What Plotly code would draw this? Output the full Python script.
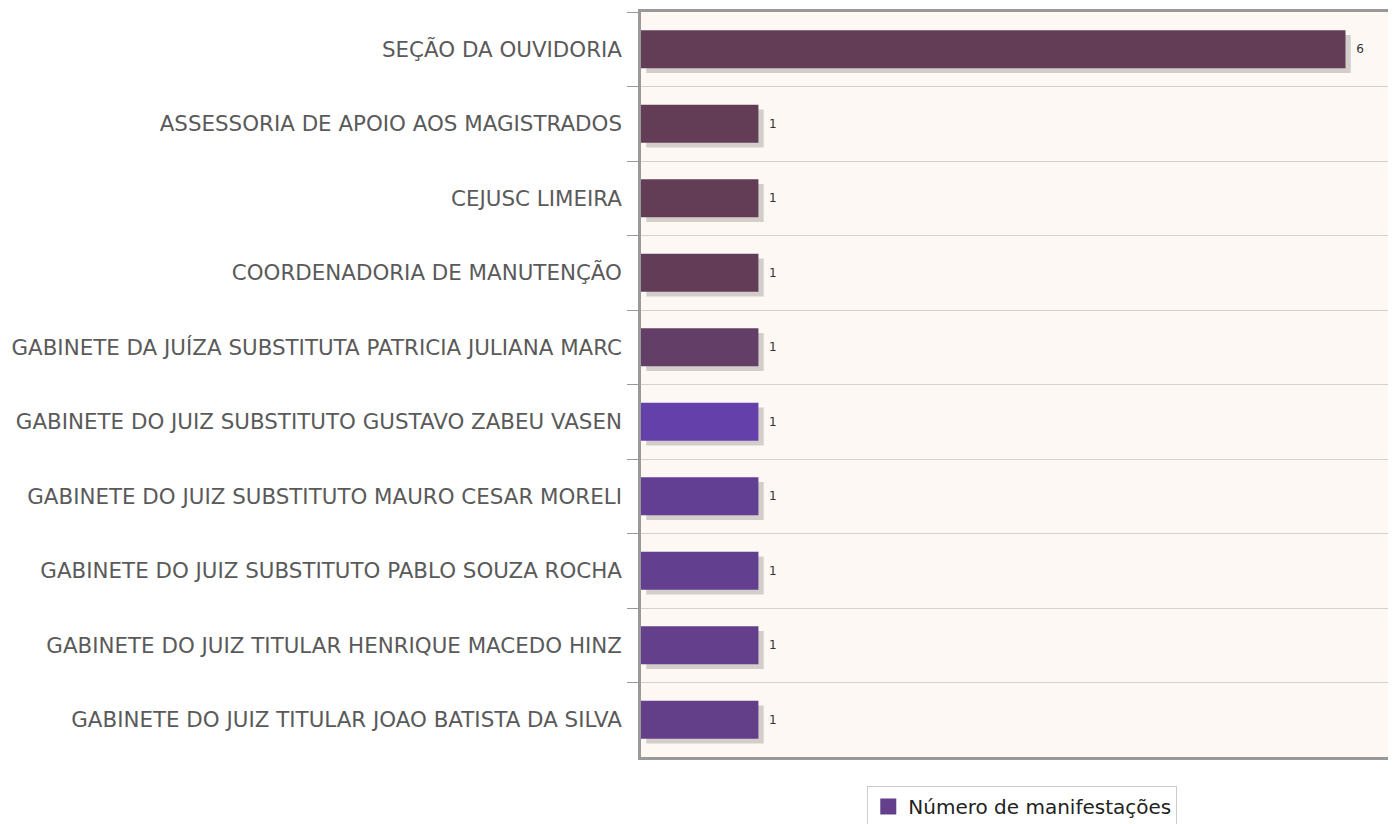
import plotly.graph_objects as go

categories = [
    "SEÇÃO DA OUVIDORIA",
    "ASSESSORIA DE APOIO AOS MAGISTRADOS",
    "CEJUSC LIMEIRA",
    "COORDENADORIA DE MANUTENÇÃO",
    "GABINETE DA JUÍZA SUBSTITUTA PATRICIA JULIANA MARC",
    "GABINETE DO JUIZ SUBSTITUTO GUSTAVO ZABEU VASEN",
    "GABINETE DO JUIZ SUBSTITUTO MAURO CESAR MORELI",
    "GABINETE DO JUIZ SUBSTITUTO PABLO SOUZA ROCHA",
    "GABINETE DO JUIZ TITULAR HENRIQUE MACEDO HINZ",
    "GABINETE DO JUIZ TITULAR JOAO BATISTA DA SILVA",
]
values = [6, 1, 1, 1, 1, 1, 1, 1, 1, 1]
bar_colors = ["#633d55", "#633d55", "#633d55", "#633d57", "#633e66",
              "#6441aa", "#633f94", "#633f8f", "#633f8c", "#633f8a"]
series_name = "Número de manifestações"
legend_color = "#633f8c"

bw = 0.51
fig = go.Figure()
# soft drop shadow
fig.add_trace(go.Bar(
    y=categories, x=values, orientation="h", base=0.045,
    width=bw, offset=-bw / 2 + 0.065,
    marker=dict(color="rgba(90,90,80,0.26)", line=dict(width=0)),
    showlegend=False, hoverinfo="skip",
))
fig.add_trace(go.Bar(
    y=categories, x=values, orientation="h", name=series_name,
    width=bw, offset=-bw / 2,
    marker=dict(color=bar_colors, line=dict(width=0)),
    text=["\u00a0\u00a0" + str(v) for v in values], textposition="outside",
    textfont=dict(size=12, color="#333333", family="DejaVu Sans"),
    cliponaxis=False, showlegend=False,
))
# legend entry
fig.add_trace(go.Scatter(
    x=[None], y=[None], mode="markers", name=series_name,
    marker=dict(symbol="square", size=18, color=legend_color), showlegend=True,
))

fig.update_layout(
    width=1388, height=816,
    margin=dict(l=633, r=0, t=4, b=67, autoexpand=False),
    paper_bgcolor="white", plot_bgcolor="#fdf8f4",
    barmode="overlay",
    font=dict(family="DejaVu Sans", size=21, color="#555555"),
    legend=dict(orientation="h", x=0.505, xanchor="center", y=-0.039, yanchor="top",
                bordercolor="#cccccc", borderwidth=1, itemwidth=30,
                font=dict(size=20, color="#222222", family="DejaVu Sans")),
    xaxis=dict(range=[0, 6.43], showticklabels=False, showgrid=False, zeroline=False,
               showline=True, linecolor="#999999", linewidth=2.5, mirror=True, ticks=""),
    yaxis=dict(autorange="reversed", tickson="boundaries", ticks="outside", ticklen=11,
               tickcolor="#999999", tickwidth=1, showgrid=True, gridcolor="#d4d0cc",
               gridwidth=1, showline=True, linecolor="#999999", linewidth=2.5,
               ticklabelstandoff=12,
               tickfont=dict(size=21.4, color="#5a5a5a", family="DejaVu Sans")),
)

fig.write_html("out.html")
